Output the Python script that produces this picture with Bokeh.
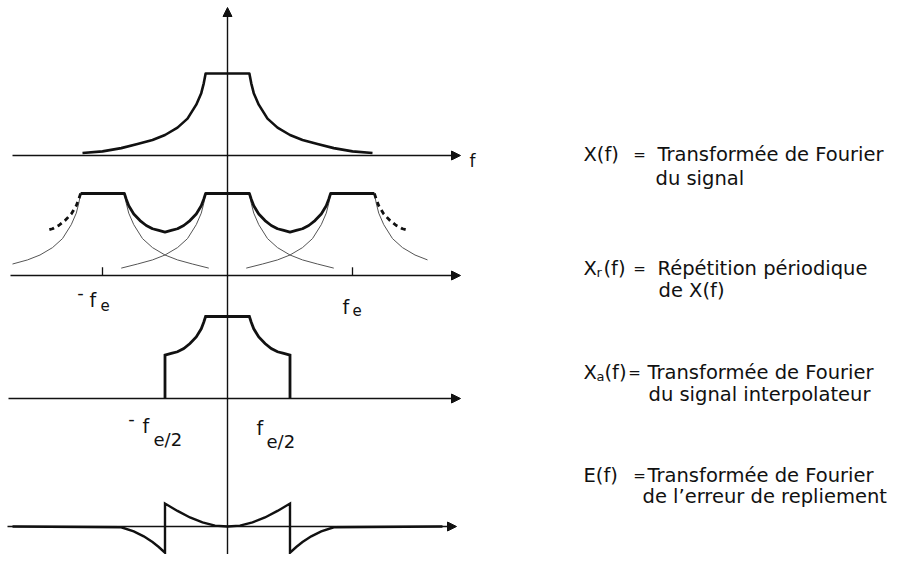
from bokeh.plotting import figure
from bokeh.models import Range1d, Arrow, NormalHead
from bokeh.embed import file_html
from bokeh.resources import INLINE
from bokeh.core.properties import value

# ---------------- data (f in units of fe, amplitude in units of X(0)) ----
FE = 1.0
COPY_CENTERS = [-1.0, 0.0, 1.0]          # multiples of fe for the periodic repetition
# X(f) half profile (f >= 0), symmetric
X_F = [0.0, 0.175, 0.19, 0.21, 0.25, 0.32, 0.40, 0.50, 0.60, 0.72, 0.85, 1.00, 1.16]
X_AMP = [1.0, 1.0, 0.88, 0.76, 0.62, 0.45, 0.34, 0.25, 0.19, 0.14, 0.09, 0.05, 0.03]
# Xr(f) half-period profile (0 .. fe/2), symmetric and periodic
XR_F = [0.0, 0.175, 0.19, 0.21, 0.25, 0.30, 0.35, 0.40, 0.45, 0.50]
XR_AMP = [1.0, 1.0, 0.93, 0.85, 0.75, 0.67, 0.61, 0.57, 0.55, 0.53]
# E(f) profile: inside |f| < fe/2 (positive) and outside (negative), symmetric
E_IN_F = [0.0, 0.1, 0.2, 0.3, 0.4, 0.5]
E_IN_AMP = [0.0, 0.01, 0.05, 0.11, 0.19, 0.28]
E_OUT_F = [0.5, 0.55, 0.6, 0.67, 0.75, 0.85, 1.72]
E_OUT_AMP = [-0.32, -0.25, -0.19, -0.12, -0.06, -0.01, 0.0]

# ---------------- layout ----------------
W, H = 888, 554
PX_PER_F = 125.0      # pixels per fe
PX_PER_A = 82.0       # pixels per amplitude unit
X0_PX = 227.0         # pixel of f = 0
XMIN = -X0_PX / PX_PER_F
XMAX = (W - X0_PX) / PX_PER_F
YMAX = H / PX_PER_A


def fx(px):   # picture pixel x -> data x
    return (px - X0_PX) / PX_PER_F


def fy(py):   # picture pixel y -> data y
    return (H - py) / PX_PER_A


BASE1, BASE2, BASE3, BASE4 = fy(155), fy(275), fy(398), fy(526)

FONT = "DejaVu Sans"
INK = "#111111"

p = figure(width=W, height=H, x_range=Range1d(XMIN, XMAX), y_range=Range1d(0, YMAX),
           output_backend="svg", toolbar_location=None, min_border=0,
           background_fill_color="white", border_fill_color="white")
p.axis.visible = False
p.grid.visible = False
p.outline_line_color = None


def mirror(fs, amps):
    xs = [-v for v in reversed(fs)] + list(fs[1:])
    ys = list(reversed(amps)) + list(amps[1:])
    return xs, ys


# ---------------- axes ----------------
def haxis(base, x_start_px, x_end_px):
    p.add_layout(Arrow(x_start=fx(x_start_px), y_start=base, x_end=fx(x_end_px), y_end=base,
                       line_color=INK, line_width=1.4,
                       end=NormalHead(size=9, fill_color=INK, line_color=INK, line_width=1)))


haxis(BASE1, 12, 460)
haxis(BASE2, 10, 460)
haxis(BASE3, 8, 460)
haxis(BASE4, 7, 456)
p.add_layout(Arrow(x_start=0, y_start=fy(575), x_end=0, y_end=fy(7),
                   line_color=INK, line_width=1.4,
                   end=NormalHead(size=9, fill_color=INK, line_color=INK, line_width=1)))

# ---------------- panel 1 : X(f) ----------------
xs, ys = mirror(X_F, X_AMP)
p.line(xs, [BASE1 + a for a in ys], line_color=INK, line_width=2.6, line_join="round")

# ---------------- panel 2 : Xr(f) ----------------
for c in COPY_CENTERS:
    lim_left = 0.72 if c < 0 else 0.85
    lim_right = 0.60 if c > 0 else 0.85
    sel = [(f, a) for f, a in zip(xs, ys) if -lim_left - 1e-9 <= f <= lim_right + 1e-9]
    p.line([c * FE + f for f, _ in sel], [BASE2 + a for _, a in sel],
           line_color="#555555", line_width=1.0)

rx, ry = mirror(XR_F, XR_AMP)
solid_x, solid_y = [], []
for c in COPY_CENTERS:
    for f, a in zip(rx, ry):
        if c < 0 and f < -0.175 - 1e-9:
            continue
        if c > 0 and f > 0.175 + 1e-9:
            continue
        solid_x.append(c * FE + f)
        solid_y.append(BASE2 + a)
p.line(solid_x, solid_y, line_color=INK, line_width=2.8, line_join="round")

# dashed continuation of the sum beyond the outer plateaus
for c, side in ((-1.0, -1), (1.0, 1)):
    sel = [(f, a) for f, a in zip(XR_F, XR_AMP) if 0.175 <= f <= 0.45]
    p.line([c * FE + side * f for f, _ in sel], [BASE2 + a for _, a in sel],
           line_color=INK, line_width=2.8, line_dash="5 4")

# ticks at +/- fe
p.segment(x0=[-FE, FE], y0=[BASE2, BASE2], x1=[-FE, FE], y1=[BASE2 + 0.1, BASE2 + 0.1],
          line_color=INK, line_width=1.3)

# ---------------- panel 3 : Xa(f) ----------------
ax = [-FE / 2] + rx + [FE / 2]
ay = [BASE3] + [BASE3 + a for a in ry] + [BASE3]
p.line(ax, ay, line_color=INK, line_width=2.8, line_join="miter")

# ---------------- panel 4 : E(f) ----------------
ex = ([-f for f in reversed(E_OUT_F)] + [-f for f in reversed(E_IN_F)] + list(E_IN_F[1:])
      + list(E_OUT_F))
ey = (list(reversed(E_OUT_AMP)) + list(reversed(E_IN_AMP)) + list(E_IN_AMP[1:])
      + list(E_OUT_AMP))
p.line(ex, [BASE4 + a for a in ey], line_color=INK, line_width=2.4, line_join="miter")


# ---------------- labels ----------------
def txt(x_px, y_px, s, size, align="left", baseline="alphabetic"):
    p.text(x=[fx(x_px)], y=[fy(y_px)], text=[s], text_font=value(FONT),
           text_font_size=f"{size}px", text_color=INK, text_align=align,
           text_baseline=baseline)


txt(469, 160, "f", 17)

txt(80, 292, "-", 18, align="center")
txt(89, 299, "f", 19)
txt(100, 304, "e", 15)
txt(342, 306, "f", 19)
txt(352, 309, "e", 15)

txt(131, 418, "-", 18, align="center")
txt(142, 425, "f", 19)
txt(153, 439, "e/2", 18)
txt(256, 427, "f", 19)
txt(266, 441, "e/2", 18)

# legend texts (main line split at the '=' so the columns line up)
LS = 19.5
txt(583, 154, "X(f)", LS)
txt(639, 154, "=", 15, align="center")
txt(657, 154, "Transformée de Fourier", LS)
txt(655, 178, "du signal", LS)

txt(583, 268, "X", LS)
txt(596, 272, "r", 13)
txt(603, 268, "(f)", LS)
txt(639, 268, "=", 15, align="center")
txt(657, 268, "Répétition périodique", LS)
txt(658, 290, "de X(f)", LS)

txt(583, 372, "X", LS)
txt(596, 376, "a", 13)
txt(604, 372, "(f)", LS)
txt(634, 372, "=", 15, align="center")
txt(647, 372, "Transformée de Fourier", LS)
txt(648, 394, "du signal interpolateur", LS)

txt(583, 475, "E(f)", LS)
txt(639, 475, "=", 15, align="center")
txt(647, 475, "Transformée de Fourier", LS)
txt(642, 496, "de l\u2019erreur de repliement", LS)

open("out.html", "w").write(file_html(p, INLINE))
